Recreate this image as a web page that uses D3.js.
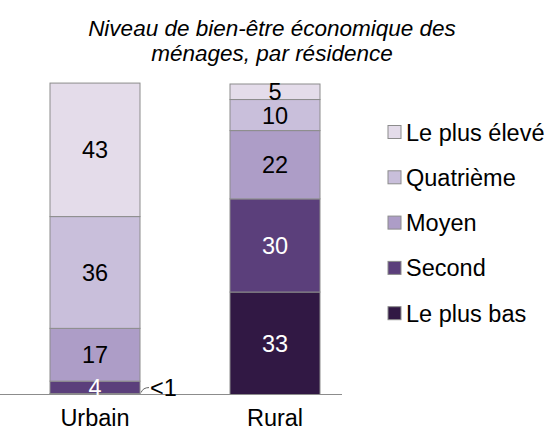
<!DOCTYPE html>
<html>
<head>
<meta charset="utf-8">
<script src="https://cdn.jsdelivr.net/npm/d3@7"></script>
<style>
  body { margin: 0; background: #fff; }
  text { font-family: "Liberation Sans", Arial, sans-serif; }
</style>
</head>
<body>
<div class="chart"></div>
<script>
// Categories (bars) and stacked series, bottom to top
var residences = ["Urbain", "Rural"];
var quintiles = ["Le plus bas", "Second", "Moyen", "Quatrième", "Le plus élevé"];
var quintile_colors = ["#311844", "#5b3f7b", "#ad9dc7", "#c9bfdb", "#e4dcea"];
var label_colors = ["#fff", "#fff", "#000", "#000", "#000"];

// Values per residence, in quintile order (bottom to top)
var urbain_values = [0.3, 4, 17, 36, 43];
var rural_values = [33, 30, 22, 10, 5];
var urbain_labels = ["<1", "4", "17", "36", "43"];
var rural_labels = ["33", "30", "22", "10", "5"];

var W = 550, H = 432;
var BASE_Y = 394.5, TOP_Y = 84;
var FONT = "23.5px";

var svg = d3.select(".chart").append("svg")
    .attr("width", W)
    .attr("height", H);

var x = d3.scaleBand()
    .domain(residences)
    .range([5, 365])
    .paddingInner(0.5)
    .paddingOuter(0.25);

var y = d3.scaleLinear()
    .domain([0, 100])
    .range([BASE_Y, TOP_Y]);

// Title
var title = svg.append("text")
    .attr("text-anchor", "middle")
    .attr("font-size", "22.5px")
    .attr("font-style", "italic")
    .attr("fill", "#000");
title.append("tspan").attr("x", 272).attr("y", 36).text("Niveau de bien-être économique des");
title.append("tspan").attr("x", 272).attr("y", 61).text("ménages, par résidence");

var all_values = [urbain_values, rural_values];
var all_labels = [urbain_labels, rural_labels];

residences.forEach(function (res, r) {
    var vals = all_values[r];
    var cum = 0;
    vals.forEach(function (v, q) {
        var y0 = y(cum), y1 = y(cum + v);
        cum += v;
        svg.append("rect")
            .attr("x", x(res))
            .attr("y", y1)
            .attr("width", x.bandwidth())
            .attr("height", y0 - y1)
            .attr("fill", quintile_colors[q])
            .attr("stroke", "#8c8c8c")
            .attr("stroke-width", 1);
    });
});

// Baseline
svg.append("line")
    .attr("x1", 0).attr("x2", 342)
    .attr("y1", BASE_Y).attr("y2", BASE_Y)
    .attr("stroke", "#8c8c8c")
    .attr("stroke-width", 1);

// Segment labels
residences.forEach(function (res, r) {
    var vals = all_values[r];
    var cum = 0;
    vals.forEach(function (v, q) {
        var mid = y(cum + v / 2);
        cum += v;
        if (v < 1) {
            // small value: leader line and label outside the bar
            var bx = x(res) + x.bandwidth();
            svg.append("path")
                .attr("d", "M" + (bx + 1) + "," + (y(v) - 1) + " Q" + (bx + 3) + "," + (y(v) - 6) + " " + (bx + 9) + "," + (y(v) - 6))
                .attr("fill", "none")
                .attr("stroke", "#666")
                .attr("stroke-width", 1);
            svg.append("text")
                .attr("x", bx + 10)
                .attr("y", BASE_Y + 1)
                .attr("font-size", FONT)
                .attr("fill", "#000")
                .text(all_labels[r][q]);
            return;
        }
        svg.append("text")
            .attr("x", x(res) + x.bandwidth() / 2)
            .attr("y", mid + 8.5)
            .attr("text-anchor", "middle")
            .attr("font-size", FONT)
            .attr("fill", label_colors[q])
            .text(all_labels[r][q]);
    });
});

// Category labels
residences.forEach(function (res) {
    svg.append("text")
        .attr("x", x(res) + x.bandwidth() / 2)
        .attr("y", 426)
        .attr("text-anchor", "middle")
        .attr("font-size", FONT)
        .attr("fill", "#000")
        .text(res);
});

// Legend, top entry first
var LEG_X = 388, LEG_Y = 132, LEG_STEP = 45.3, SQ = 13;
quintiles.slice().reverse().forEach(function (name, i) {
    var q = quintiles.length - 1 - i;
    var cy = LEG_Y + i * LEG_STEP;
    svg.append("rect")
        .attr("x", LEG_X)
        .attr("y", cy - SQ / 2)
        .attr("width", SQ)
        .attr("height", SQ)
        .attr("fill", quintile_colors[q])
        .attr("stroke", "#8c8c8c")
        .attr("stroke-width", 1);
    svg.append("text")
        .attr("x", LEG_X + SQ + 5)
        .attr("y", cy + 8.5)
        .attr("font-size", FONT)
        .attr("fill", "#000")
        .text(name);
});
</script>
</body>
</html>
